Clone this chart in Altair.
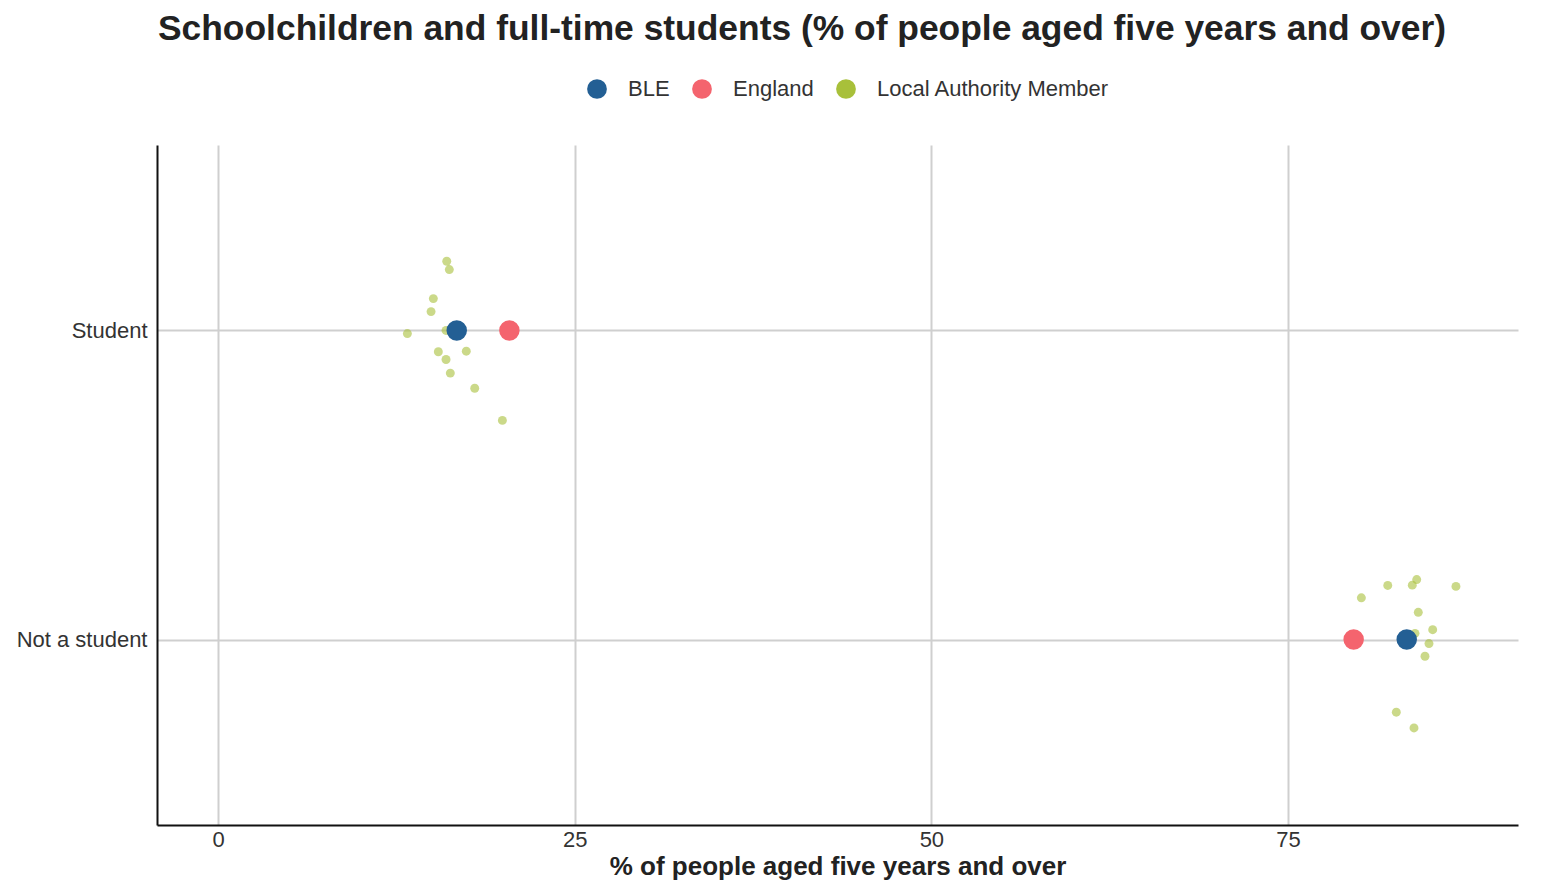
import altair as alt
import pandas as pd

TITLE = "Schoolchildren and full-time students (% of people aged five years and over)"
X_TITLE = "% of people aged five years and over"

categories = ["Not a student", "Student"]  # positions 0, 1
groups = ["BLE", "England", "Local Authority Member"]
colors = ["#235f94", "#f4646e", "#a8c03a"]

ble_values = {"Student": 16.73, "Not a student": 83.32}
england_values = {"Student": 20.42, "Not a student": 79.60}

la_student_x = [16.03, 16.21, 15.09, 14.93, 13.27, 15.44, 15.98, 17.40, 16.28, 17.99, 19.93, 15.98]
la_student_jitter = [0.224, 0.197, 0.103, 0.061, -0.010, -0.069, -0.094, -0.067, -0.138, -0.187, -0.291, 0.0]
la_not_x = [84.02, 83.71, 81.99, 86.77, 80.14, 84.13, 85.14, 83.90, 84.88, 84.60, 82.59, 83.83]
la_not_jitter = [0.194, 0.176, 0.175, 0.172, 0.135, 0.088, 0.032, 0.020, -0.013, -0.054, -0.235, -0.286]

pos = {c: i for i, c in enumerate(categories)}

rows = []
for x, j in zip(la_student_x, la_student_jitter):
    rows.append({"group": groups[2], "cat": "Student", "value": x, "y": pos["Student"] + j})
for x, j in zip(la_not_x, la_not_jitter):
    rows.append({"group": groups[2], "cat": "Not a student", "value": x, "y": pos["Not a student"] + j})
la_df = pd.DataFrame(rows)

main_rows = []
for c in categories:
    main_rows.append({"group": "BLE", "cat": c, "value": ble_values[c], "y": pos[c]})
    main_rows.append({"group": "England", "cat": c, "value": england_values[c], "y": pos[c]})
main_df = pd.DataFrame(main_rows)

color_scale = alt.Scale(domain=groups, range=colors)
x_enc = alt.X("value:Q", title=X_TITLE,
              scale=alt.Scale(domain=[-4.28, 91.12], nice=False, zero=False),
              axis=alt.Axis(values=[0, 25, 50, 75], grid=True, ticks=False,
                            labelPadding=4, titlePadding=3))
y_enc = alt.Y("y:Q", title=None,
              scale=alt.Scale(domain=[-0.6, 1.6], nice=False, zero=False),
              axis=alt.Axis(values=[0, 1], grid=True, ticks=False, labelPadding=10,
                            labelExpr="datum.value == 1 ? 'Student' : 'Not a student'"))

la_layer = alt.Chart(la_df).mark_circle(size=80, opacity=0.6).encode(
    x=x_enc, y=y_enc,
    color=alt.Color("group:N", scale=color_scale, title=None,
                    legend=alt.Legend(orient="none", legendX=429, legendY=-67,
                                      direction="horizontal", columns=3,
                                      symbolType="circle", symbolSize=390,
                                      symbolOpacity=1, symbolStrokeWidth=0,
                                      labelFontSize=22, labelOffset=20, labelLimit=0,
                                      columnPadding=21, padding=0,
                                      labelColor="#333333", labelFont="Liberation Sans")),
)

main_layer = alt.Chart(main_df).mark_circle(size=420, opacity=1).encode(
    x=x_enc, y=y_enc,
    color=alt.Color("group:N", scale=color_scale, title=None),
)

title_layer = alt.Chart(pd.DataFrame({"t": [TITLE]})).mark_text(
    fontSize=35.4, fontWeight="bold", font="Liberation Sans", color="#222222",
    align="center", baseline="middle"
).encode(text="t:N", x=alt.value(645), y=alt.value(-116))

chart = alt.layer(la_layer, main_layer, title_layer).properties(
    width=1361, height=680,
    autosize=alt.AutoSizeParams(type="none"),
    padding={"left": 149, "top": 137, "right": 16, "bottom": 60},
).configure_view(stroke=None).configure_axis(
    domainColor="#111111", domainWidth=2,
    gridColor="#cfcfcf", gridWidth=2,
    labelFont="Liberation Sans", labelFontSize=22, labelColor="#333333",
    titleFont="Liberation Sans", titleFontSize=26, titleFontWeight="bold", titleColor="#222222",
)

chart.save("out.html", embed_options={"renderer": "svg", "actions": False})
